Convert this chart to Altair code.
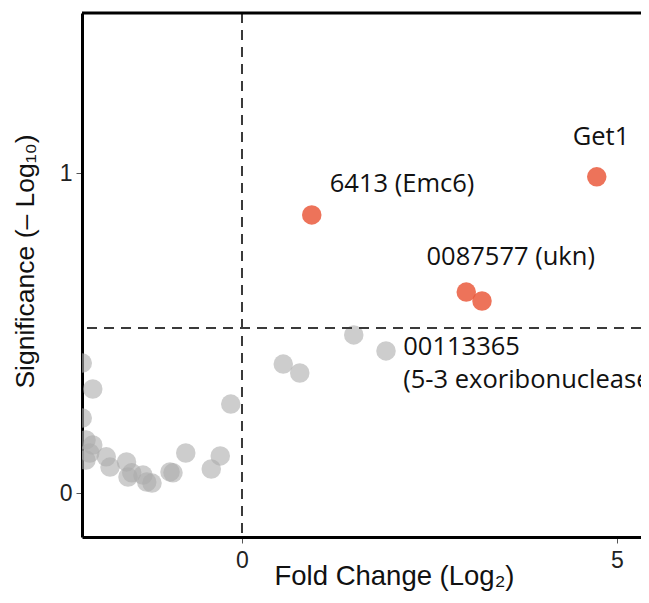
import altair as alt
import pandas as pd

# Non-significant (grey) points
grey_x = [-2.13, -1.99, -2.13, -2.08, -1.99, -2.08, -2.03, -1.81, -1.76, -1.54,
          -1.47, -1.52, -1.32, -1.27, -1.20, -0.96, -0.92, -0.75, -0.41, -0.29,
          -0.15, 0.55, 0.77, 1.49, 1.92]
grey_y = [0.406, 0.325, 0.234, 0.166, 0.150, 0.103, 0.125, 0.113, 0.081, 0.097,
          0.063, 0.050, 0.056, 0.034, 0.031, 0.066, 0.063, 0.125, 0.075, 0.116,
          0.278, 0.403, 0.375, 0.494, 0.444]

# Significant (red) points
red_x = [4.73, 0.93, 2.99, 3.20]
red_y = [0.988, 0.869, 0.628, 0.600]

# Labels
lab_text = ["Get1", "6413 (Emc6)", "0087577 (ukn)", "00113365", "(5-3 exoribonuclease)"]
lab_x = [4.41, 1.17, 2.46, 2.15, 2.15]
lab_y = [1.112, 0.966, 0.736, 0.457, 0.353]

threshold_y = 0.516
threshold_x = 0.0

x_domain = [-2.1333, 5.32]
y_domain = [-0.1375, 1.5]
x_ticks = [0, 5]
y_ticks = [0, 1]

W, H = 559, 524

grey = pd.DataFrame({"x": grey_x, "y": grey_y})
red = pd.DataFrame({"x": red_x, "y": red_y})
labels = pd.DataFrame({"x": lab_x, "y": lab_y, "t": lab_text})

xs = alt.Scale(domain=x_domain, nice=False, zero=False)
ys = alt.Scale(domain=y_domain, nice=False, zero=False)

xaxis = alt.Axis(values=x_ticks, format="d", title="Fold Change (Log₂)", grid=False,
                 domainColor="black", domainWidth=3, tickColor="#555", tickSize=6,
                 labelFontSize=23, labelColor="#222", labelFont="Liberation Sans",
                 labelPadding=6,
                 titleFont="Liberation Sans", titleFontSize=27.5, titleFontWeight="normal",
                 titleColor="#111", titleX=312, titleY=47, titleAlign="center",
                 titleBaseline="alphabetic")
yaxis = alt.Axis(values=y_ticks, format="d", title="Significance (– Log₁₀)", grid=False,
                 domainColor="black", domainWidth=3, tickColor="#555", tickSize=6,
                 labelFontSize=23, labelColor="#222", labelFont="Liberation Sans",
                 labelPadding=4,
                 titleFont="Liberation Sans", titleFontSize=26.5, titleFontWeight="normal",
                 titleColor="#111", titleX=-49, titleY=248, titleAlign="center",
                 titleBaseline="alphabetic")

base_grey = alt.Chart(grey).mark_circle(size=380, color="#ABABAB", opacity=0.6, clip=True).encode(
    x=alt.X("x:Q", scale=xs, axis=xaxis),
    y=alt.Y("y:Q", scale=ys, axis=yaxis),
)

hrule = alt.Chart(pd.DataFrame({"y": [threshold_y]})).mark_rule(
    color="#3a3a3a", strokeWidth=2, strokeDash=[10, 7]).encode(y=alt.Y("y:Q", scale=ys))
vrule = alt.Chart(pd.DataFrame({"x": [threshold_x]})).mark_rule(
    color="#3a3a3a", strokeWidth=2, strokeDash=[10, 7]).encode(x=alt.X("x:Q", scale=xs))

reds = alt.Chart(red).mark_circle(size=380, color="#EA5A3D", opacity=0.85, clip=True).encode(
    x=alt.X("x:Q", scale=xs),
    y=alt.Y("y:Q", scale=ys),
)

texts = alt.Chart(labels).mark_text(align="left", baseline="middle", font="Open Sans",
                                     fontSize=25.5, color="#111").encode(
    x=alt.X("x:Q", scale=xs),
    y=alt.Y("y:Q", scale=ys),
    text="t:N",
)

top_border = alt.Chart(pd.DataFrame({"a": [0]})).mark_rule(color="black", strokeWidth=3).encode(
    x=alt.value(0), x2=alt.value(W), y=alt.value(0))

chart = alt.layer(base_grey, hrule, vrule, reds, texts, top_border).properties(
    width=W, height=H,
    padding={"left": 74, "top": 5, "right": 0, "bottom": 54},
    autosize="none",
).configure_view(stroke=None)

chart.save("out.html", embed_options={"renderer": "svg", "actions": False})
